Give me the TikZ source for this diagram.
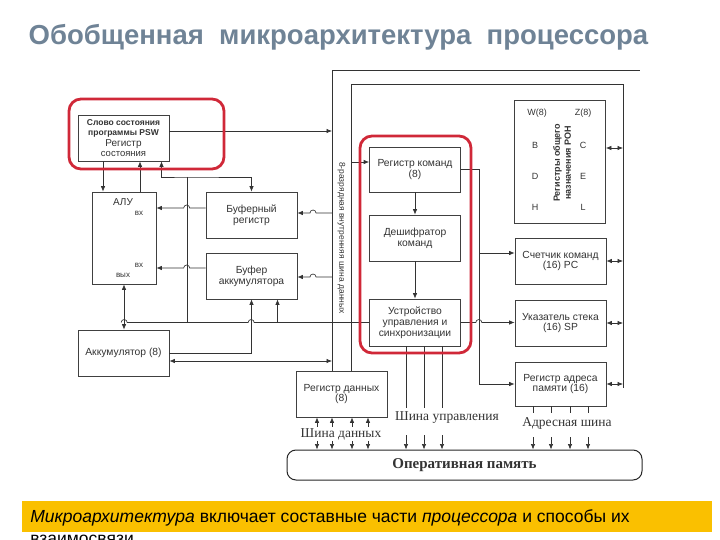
\documentclass[tikz,border=0pt]{standalone}
\usepackage{fontspec}
\setmainfont{Liberation Sans}
\newfontfamily\serifru{Liberation Serif}
\usetikzlibrary{arrows.meta}

\definecolor{titlegray}{RGB}{111,131,150}
\definecolor{framered}{RGB}{208,40,56}
\definecolor{notebar}{RGB}{250,192,0}

\tikzset{
  blk/.style={draw=black!75, minimum width=91pt, minimum height=46pt,
    inner sep=1pt, align=center, font=\fontsize{10.3}{10.8}\selectfont},
  redframe/.style={draw=framered, line width=2.8pt, rounded corners=12pt},
  smalltxt/.style={font=\fontsize{8}{9}\selectfont},
  regtxt/.style={font=\fontsize{9}{10}\selectfont},
  buslbl/.style={font=\serifru\fontsize{13.5}{14}\selectfont},
}

\begin{document}
\begin{tikzpicture}[x=1pt,y=-1pt,color=black!80,line width=0.65pt,>={Latex[length=5.5pt,width=4.4pt]}]
  \useasboundingbox (0,0) rectangle (720,540);

  % Title
  \node[anchor=west, text=titlegray, font=\bfseries\fontsize{27.5}{30}\selectfont] (title) at (25,37)
    {Обобщенная\ \ микроархитектура\ \ процессора};

  % Blocks on the left
  \node[blk, font=\fontsize{8.5}{10.5}\selectfont] (psw) at (123.5,138)
    {\textbf{Слово состояния}\\\textbf{программы PSW}\\{\fontsize{10}{11}\selectfont Регистр}\\{\fontsize{9.5}{10.5}\selectfont состояния}};
  \node[blk, minimum width=64pt, minimum height=92pt] (alu) at (124,238) {};
  \node[font=\fontsize{10}{11}\selectfont] (alutxt) at (123,202) {АЛУ};
  \node[smalltxt] (aluin1) at (139,213) {вх};
  \node[smalltxt] (aluin2) at (139,265) {вх};
  \node[smalltxt] (aluout) at (123,275) {вых};
  \node[blk] (bufreg) at (251.5,215) {Буферный\\регистр};
  \node[blk] (bufacc) at (251.5,276) {Буфер\\аккумулятора};
  \node[blk] (acc) at (123.5,353) {Аккумулятор (8)};

  % Blocks in the middle
  \node[blk, minimum height=45pt] (cmdreg) at (415,169.5) {Регистр команд\\(8)};
  \node[blk] (decoder) at (415,238) {Дешифратор\\команд};
  \node[blk, minimum height=47pt] (ctrl) at (415,322.5) {Устройство\\управления и\\синхронизации};
  \node[blk] (datareg) at (341.5,394) {Регистр данных\\(8)};

  % Blocks on the right
  \node[blk, minimum height=123pt] (ron) at (560,161.5) {};
  \foreach \lbl/\x/\y [count=\i] in {W(8)/537/113, Z(8)/583/113, B/535/145, C/583/145,
      D/535/176, E/583/176, H/535/207, L/583/207}
    \node[regtxt] (reg\i) at (\x,\y) {\lbl};
  \node[rotate=90, align=center, font=\bfseries\fontsize{9}{11}\selectfont] (rontxt) at (562,163)
    {Регистры общего\\назначения РОН};
  \node[blk] (pc) at (560.5,261) {Счетчик команд\\(16) PC};
  \node[blk] (sp) at (560.5,323) {Указатель стека\\(16) SP};
  \node[blk, minimum height=44pt] (addr) at (560.5,384) {Регистр адреса\\памяти (16)};

  % Memory and bus names
  \node[buslbl] (databus) at (341,434) {Шина данных};
  \node[buslbl] (ctlbus) at (447,418) {Шина управления};
  \node[buslbl] (addrbus) at (567,423) {Адресная шина};
  \node[draw=black!85, line width=1pt, rounded corners=9pt, minimum width=355pt, minimum height=30pt,
    font=\serifru\bfseries\fontsize{15}{16}\selectfont] (mem) at (464.5,465) {Оперативная память};

  % Internal bus
  \coordinate (ob) at (332,70);
  \coordinate (ib) at (351,84);
  \coordinate (rb) at (623,84);
  \coordinate (br) at (479,169);
  \coordinate (jn) at (187,177);
  \draw (datareg.north -| ob) -- (ob) -- ++(308,0);
  \draw (datareg.north -| ib) -- (ib) -- (rb) -- ++(0,304);
  \node[rotate=-90, font=\fontsize{8.5}{9}\selectfont] (buslbl) at (341.5,238)
    {8-разрядная внутренняя шина данных};

  % Left connections
  \draw[->] ([yshift=7pt]psw.east) -- ([yshift=7pt]psw.east -| ob);
  \draw[->] ([xshift=-21pt]alu.north |- psw.south) -- ([xshift=-21pt]alu.north);
  \draw[->] ([xshift=16pt]alu.north) -- ([xshift=16pt]alu.north |- psw.south);
  \draw[<->] ([xshift=38pt]psw.south) |- (jn) -| (bufreg.north);
  \draw (jn) -- (jn |- ctrl.west);
  \draw[->] ([yshift=7pt]bufreg.west) -- ++(-16,0) arc[start angle=0,end angle=-180,radius=3]
    -- ([yshift=7pt]bufreg.west -| alu.east);
  \draw[->] ([yshift=8pt]bufacc.west) -- ++(-16,0) arc[start angle=0,end angle=-180,radius=3]
    -- ([yshift=8pt]bufacc.west -| alu.east);
  \draw[->] ([yshift=2pt]bufreg.east -| ob) -- ++(-16,0) arc[start angle=0,end angle=-180,radius=3]
    -- ([yshift=2pt]bufreg.east);
  \draw[->] ([yshift=-1pt]bufacc.east -| ob) -- ++(-16,0) arc[start angle=0,end angle=-180,radius=3]
    -- ([yshift=-1pt]bufacc.east);
  \draw[<->] (alu.south) -- (alu.south |- acc.north);
  \draw[->] (acc.east) -| (bufacc.south);
  \draw[->] ([xshift=26pt]bufacc.south |- ctrl.west) -- ([xshift=26pt]bufacc.south);
  \draw[<->] ([yshift=-8pt]acc.east) -- ([yshift=-8pt]acc.east -| ob);
  \draw (ctrl.west) -- ++(-115,0) arc[start angle=0,end angle=-180,radius=3]
    -- ++(-121,0) arc[start angle=0,end angle=-180,radius=3];

  % Middle and right connections
  \draw[->] ([yshift=7.5pt]cmdreg.west -| ib) -- ([yshift=7.5pt]cmdreg.west);
  \draw[->] (cmdreg) -- (decoder);
  \draw[->] (decoder) -- (ctrl);
  \draw[->] (cmdreg.east) -- (cmdreg.east -| br) |- (addr.west);
  \draw[->] ([yshift=8pt]pc.west -| br) -- ([yshift=8pt]pc.west);
  \draw[->] (ctrl.east) -- ++(15,0) arc[start angle=180,end angle=360,radius=3] -- (ctrl.east -| sp.west);
  \draw[<->] ([yshift=13.5pt]ron.east) -- ([yshift=13.5pt]ron.east -| rb);
  \foreach \blk in {pc,sp,addr}
    \draw[<->] (\blk.east) -- (\blk.east -| rb);

  % Buses to memory
  \foreach \x in {406,424,442} {
    \draw (\x,0 |- ctrl.south) -- (\x,408);
    \draw[->] (\x,435) -- (\x,0 |- mem.north);
  }
  \foreach \x in {317,332,352,368} {
    \draw[<-] (\x,0 |- datareg.south) -- (\x,427);
    \draw[->] (\x,441) -- (\x,0 |- mem.north);
  }
  \foreach \x in {533,551,570,588} {
    \draw (\x,0 |- addr.south) -- (\x,413);
    \draw[->] (\x,437) -- (\x,0 |- mem.north);
  }

  % Red frames
  \draw[redframe] (69,99) rectangle (224,169);
  \draw[redframe] (360,136) rectangle (471,353);

  % Note
  \fill[notebar] (22,501) rectangle (712,532);
  \node[anchor=north west, align=left, inner sep=0pt, text=black, font=\fontsize{17.5}{22}\selectfont] (note) at (30,509.5)
    {\textit{Микроархитектура} включает составные части \textit{процессора} и способы их\\взаимосвязи};
\end{tikzpicture}
\end{document}
